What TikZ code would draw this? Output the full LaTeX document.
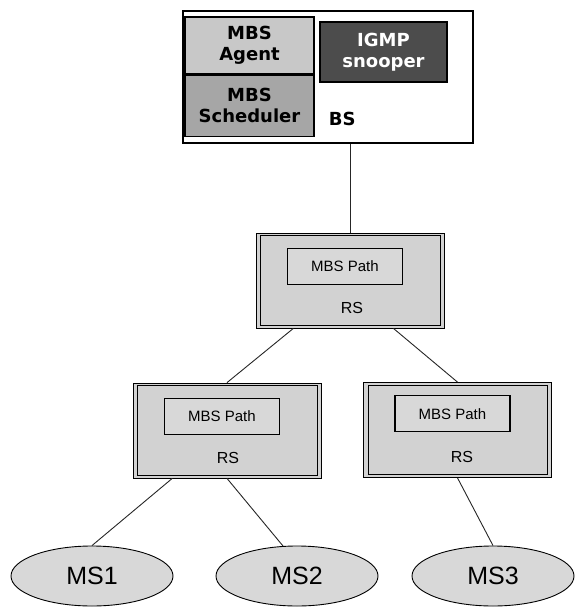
\documentclass[tikz,border=0pt]{standalone}
\usepackage{fontspec}
\setmainfont{Liberation Sans}
\newfontfamily\dvsans{DejaVu Sans}
\usetikzlibrary{shapes.geometric, positioning, calc}
\definecolor{agentgray}{HTML}{C8C8C8}
\definecolor{schedgray}{HTML}{A6A6A6}
\definecolor{igmpgray}{HTML}{4C4C4C}
\definecolor{rsgray}{HTML}{D2D2D2}
\definecolor{pathgray}{HTML}{D8D8D8}
\definecolor{msgray}{HTML}{D8D8D8}
\tikzset{
  bsbox/.style={rectangle, draw=black, line width=1.5pt, fill=white, minimum width=290pt, minimum height=132pt},
  unitbox/.style={rectangle, draw=black, line width=1.4pt, minimum width=129pt, inner sep=0pt, align=center, font=\dvsans\bfseries\fontsize{18}{21}\selectfont},
  rsbox/.style={rectangle, draw=black, line width=0.8pt, fill=rsgray, minimum width=188pt, minimum height=95pt},
  rsframe/.style={draw=black, line width=1.1pt},
  pathbox/.style={rectangle, draw=black, line width=1.1pt, fill=pathgray, minimum width=115pt, minimum height=36pt, font=\fontsize{15}{18}\selectfont},
  rslabel/.style={font=\fontsize{16}{19}\selectfont},
  msnode/.style={ellipse, draw=black, line width=0.9pt, fill=msgray, minimum width=162pt, minimum height=60pt, font=\fontsize{25}{30}\selectfont},
  link/.style={draw=black!85, line width=0.9pt}
}
\begin{document}
\begin{tikzpicture}[x=1pt, y=-1pt]
  \useasboundingbox (0,0) rectangle (576,608);

  % base station
  \node (bs) [bsbox] at (328,77) {};
  \node (agent) [unitbox, fill=agentgray, minimum height=57pt] at (249.5,45.5) {MBS\\Agent};
  \node (sched) [unitbox, fill=schedgray, minimum height=61pt, below=0pt of agent] {MBS\\Scheduler};
  \node (igmp) [unitbox, fill=igmpgray, text=white, minimum width=127pt, minimum height=60pt] at (383.5,52) {IGMP\\snooper};
  \node (bslabel) [right=14pt of sched, yshift=-13pt, inner sep=0pt, font=\dvsans\bfseries\fontsize{18}{21}\selectfont] {BS};

  % relay stations
  \node (rsmid) [rsbox] at (350,280.5) {};
  \node (rsl) [rsbox] at (227,430.5) {};
  \node (rsr) [rsbox] at (457.5,430) {};
  \foreach \r in {rsmid, rsl, rsr}
    \draw [rsframe] ([shift={(5,3)}]\r.north west) rectangle ([shift={(-4,-3)}]\r.south east);

  \node (pathmid) [pathbox, below=15pt of rsmid.north, xshift=-5pt] {MBS Path};
  \node (rsmidlabel) [rslabel, above=11pt of rsmid.south, xshift=2pt] {RS};
  \node (pathl) [pathbox, below=15pt of rsl.north, xshift=-5pt] {MBS Path};
  \node (rsllabel) [rslabel, above=11pt of rsl.south, xshift=1pt] {RS};
  \node (pathr) [pathbox, below=13pt of rsr.north, xshift=-5pt] {MBS Path};
  \node (rsrlabel) [rslabel, above=12pt of rsr.south, xshift=4.5pt] {RS};

  % mobile stations
  \node (ms1) [msnode] at (92,576) {MS1};
  \node (ms2) [msnode] at (297,576) {MS2};
  \node (ms3) [msnode] at (493,576) {MS3};

  \draw [link] (bs.south -| rsmid.north) -- (rsmid.north);
  \draw [link] ($(rsmid.south west)!.2!(rsmid.south east)$) -- (rsl.north);
  \draw [link] ($(rsmid.south west)!.73!(rsmid.south east)$) -- (rsr.north);
  \draw [link] ($(rsl.south west)!.21!(rsl.south east)$) -- (ms1.north);
  \draw [link] (rsl.south) -- (ms2.115);
  \draw [link] (rsr.south) -- (ms3.north);
\end{tikzpicture}
\end{document}
